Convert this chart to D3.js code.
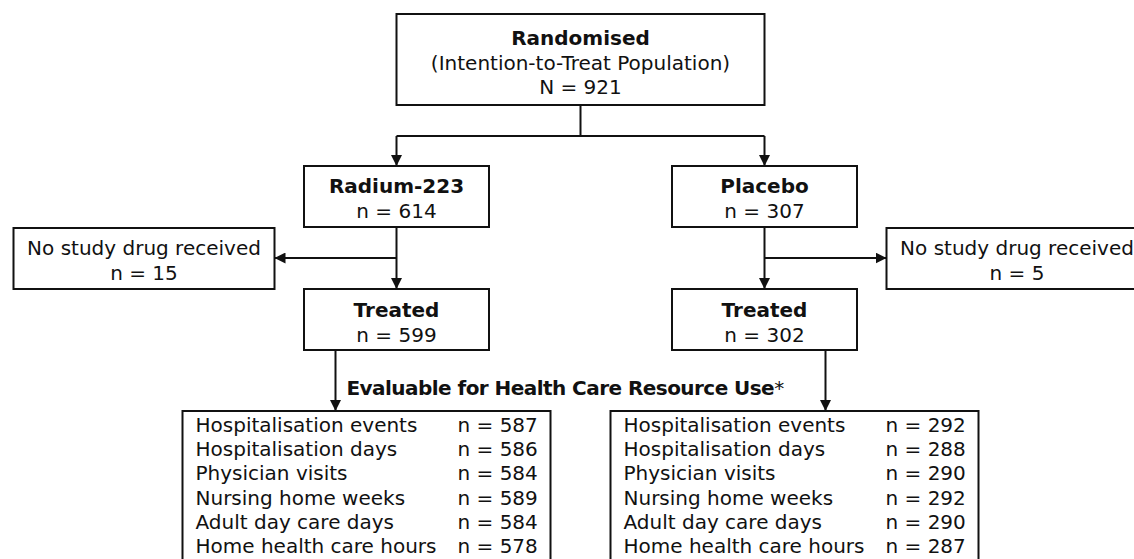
<!DOCTYPE html>
<html>
<head>
<meta charset="utf-8">
<script src="https://d3js.org/d3.v7.min.js"></script>
<style>
  body { margin: 0; background: #fff; }
  svg { display: block; font-family: "DejaVu Sans", Verdana, sans-serif; }
</style>
</head>
<body>
<script>
// flow chart data
var totalTitle = "Randomised",
    totalSub = "(Intention-to-Treat Population)",
    totalN = 921;

var arms = ["Radium-223", "Placebo"];
var armRandomised = [614, 307];
var armNoDrug = [15, 5];
var armTreated = [599, 302];

var resourceItems = [
  "Hospitalisation events",
  "Hospitalisation days",
  "Physician visits",
  "Nursing home weeks",
  "Adult day care days",
  "Home health care hours"
];
var radiumEvaluable = [587, 586, 584, 589, 584, 578];
var placeboEvaluable = [292, 288, 290, 292, 290, 287];
var evaluable = [radiumEvaluable, placeboEvaluable];

window.onload = drawChart;

function drawChart(){
    var width = 1134,
        height = 559;

    var svg = d3.select("body")
        .append("svg")
        .attr("width", width)
        .attr("height", height);

    var ink = "#111";

    // arrow head
    svg.append("defs").append("marker")
        .attr("id", "arrow")
        .attr("viewBox", "0 0 10 10")
        .attr("refX", 10)
        .attr("refY", 5)
        .attr("markerUnits", "userSpaceOnUse")
        .attr("markerWidth", 11)
        .attr("markerHeight", 11)
        .attr("orient", "auto")
        .append("path")
        .attr("d", "M0,0L10,5L0,10z")
        .attr("fill", ink);

    // arm centres
    var armX = d3.scalePoint()
        .domain(arms)
        .range([396.5, 764.5]);

    // row positions inside the resource boxes
    var rowY = d3.scalePoint()
        .domain(d3.range(resourceItems.length))
        .range([432, 553]);

    function box(x, y, w, h){
        svg.append("rect")
            .attr("x", x).attr("y", y)
            .attr("width", w).attr("height", h)
            .attr("fill", "#fff")
            .attr("stroke", ink)
            .attr("stroke-width", 2);
    }
    function label(x, y, txt, bold, anchor){
        return svg.append("text")
            .attr("x", x).attr("y", y)
            .attr("text-anchor", anchor || "middle")
            .attr("font-size", 20)
            .attr("font-weight", bold ? "bold" : "normal")
            .attr("fill", ink)
            .text(txt);
    }
    function line(x1, y1, x2, y2, arrow){
        var l = svg.append("line")
            .attr("x1", x1).attr("y1", y1)
            .attr("x2", x2).attr("y2", y2)
            .attr("stroke", ink)
            .attr("stroke-width", 2);
        if (arrow) l.attr("marker-end", "url(#arrow)");
    }

    // top box
    var topX = armX(arms[0]), topW = armX(arms[1]) - armX(arms[0]);
    var topC = topX + topW / 2;
    box(topX, 14, topW, 91);
    label(topC, 45, totalTitle, true);
    label(topC, 70, totalSub);
    label(topC, 94, "N = " + totalN);

    // split connector
    line(topC, 105, topC, 136);
    line(armX(arms[0]), 136, armX(arms[1]), 136);

    var boxW = 185, sideW = 261;

    arms.forEach(function(arm, i){
        var c = armX(arm),
            dir = i === 0 ? -1 : 1;

        line(c, 136, c, 166, true);

        // randomised arm
        box(c - boxW / 2, 166, boxW, 61);
        label(c, 193, arm, true);
        label(c, 218, "n = " + armRandomised[i]);

        // down to treated, branch to no drug
        line(c, 227, c, 289, true);
        var sideEdge = c + dir * 122;
        line(c, 258, sideEdge, 258, true);
        var sideX = dir < 0 ? sideEdge - sideW : sideEdge;
        box(sideX, 228, sideW, 61);
        label(sideX + sideW / 2, 255, "No study drug received");
        label(sideX + sideW / 2, 280, "n = " + armNoDrug[i]);

        // treated
        box(c - boxW / 2, 289, boxW, 61);
        label(c, 317, "Treated", true);
        label(c, 342, "n = " + armTreated[i]);

        // to evaluable box
        var ax = c + dir * 61;
        line(ax, 350, ax, 411, true);

        var x0 = dir < 0 ? c - 214 : c - 154;
        box(x0, 411, 368, 170);

        svg.append("g")
            .selectAll("text")
            .data(resourceItems)
            .join("text")
            .attr("x", x0 + 13)
            .attr("y", function(d, j){ return rowY(j); })
            .attr("font-size", 20)
            .attr("fill", ink)
            .text(function(d){ return d; });

        svg.append("g")
            .selectAll("text")
            .data(evaluable[i])
            .join("text")
            .attr("x", x0 + 275)
            .attr("y", function(d, j){ return rowY(j); })
            .attr("font-size", 20)
            .attr("fill", ink)
            .text(function(d){ return "n = " + d; });
    });

    // evaluable heading
    var head = label(armX(arms[0]) - 61 + 11, 395, "Evaluable for Health Care Resource Use", true, "start")
        .attr("letter-spacing", -0.55);
    head.append("tspan").attr("font-weight", "normal").attr("letter-spacing", 0).text("*");
}
</script>
</body>
</html>
